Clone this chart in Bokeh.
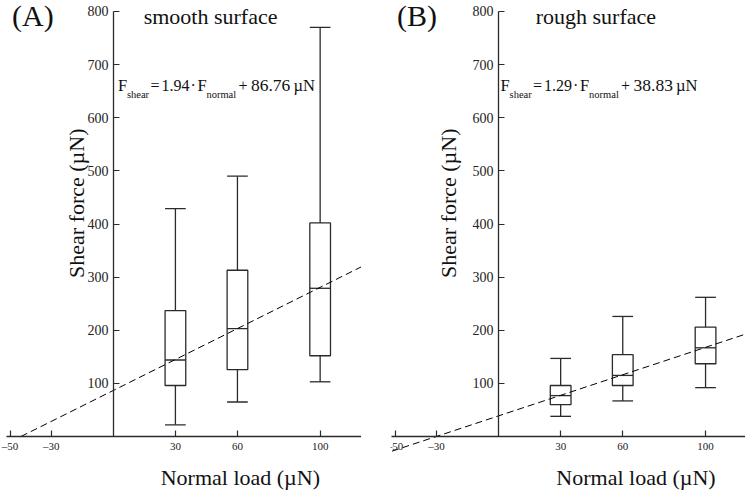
import math
from bokeh.plotting import figure
from bokeh.models import Range1d, FixedTicker, Label
from bokeh.layouts import row
from bokeh.embed import file_html
from bokeh.resources import INLINE

# ---------------- data ----------------
loads = [30, 60, 100]

smooth_min = [22, 65, 103]
smooth_q1 = [96, 126, 152]
smooth_med = [144, 203, 279]
smooth_q3 = [237, 313, 402]
smooth_max = [429, 490, 770]

rough_min = [38, 67, 92]
rough_q1 = [60, 96, 137]
rough_med = [77, 115, 167]
rough_q3 = [96, 154, 206]
rough_max = [147, 226, 262]

smooth_fit = (1.94, 86.76)
rough_fit = (1.29, 38.83)

x_ticks = [-50, -30, 30, 60, 100]
y_ticks = [100, 200, 300, 400, 500, 600, 700, 800]
x_tick_labels = {-50: "\u201350", -30: "\u201330"}

FONT = "Liberation Serif"
LINE = "#2b2b2b"
TXT = "#111111"
BOX_W = 10


def panel(x_start, x_end, width, border_left, letter, title, fit, mins, q1, med, q3, maxs,
          line_x0, eq_dx, ylab_x, xlab_x):
    p = figure(width=width, height=491, x_range=Range1d(x_start, x_end),
               y_range=Range1d(-103.5, 820.7), output_backend="svg", toolbar_location=None,
               min_border_left=border_left, min_border_right=0, min_border_top=0,
               min_border_bottom=0)
    p.outline_line_color = None
    p.grid.visible = False
    p.background_fill_color = "white"
    p.border_fill_color = "white"

    for ax in (p.xaxis[0], p.yaxis[0]):
        ax.fixed_location = 0
        ax.axis_line_color = LINE
        ax.axis_line_width = 1.3
        ax.major_tick_line_color = LINE
        ax.major_tick_line_width = 1.2
        ax.major_tick_in = 6
        ax.major_tick_out = 0
        ax.minor_tick_line_color = None
        ax.major_label_text_font = FONT
        ax.major_label_text_color = "#222222"
        ax.axis_label = None
    p.xaxis[0].ticker = FixedTicker(ticks=x_ticks)
    p.xaxis[0].major_label_overrides = x_tick_labels
    p.xaxis[0].major_label_text_font_size = "11px"
    p.xaxis[0].major_label_standoff = 3
    p.xaxis[0].bounds = (-51.5, 120)
    p.yaxis[0].ticker = FixedTicker(ticks=y_ticks)
    p.yaxis[0].major_label_text_font_size = "14px"
    p.yaxis[0].major_label_standoff = 5
    p.yaxis[0].bounds = (0, 800)

    lefts = [x - BOX_W / 2 for x in loads]
    rights = [x + BOX_W / 2 for x in loads]
    # boxes
    p.vbar(x=loads, width=BOX_W, bottom=q1, top=q3, fill_color=None,
           line_color=LINE, line_width=1.3)
    # medians
    p.segment(x0=lefts, x1=rights, y0=med, y1=med, line_color=LINE, line_width=1.3)
    # whiskers
    p.segment(x0=loads, x1=loads, y0=q3, y1=maxs, line_color=LINE, line_width=1.3)
    p.segment(x0=loads, x1=loads, y0=q1, y1=mins, line_color=LINE, line_width=1.3)
    # caps
    p.segment(x0=lefts, x1=rights, y0=maxs, y1=maxs, line_color=LINE, line_width=1.3)
    p.segment(x0=lefts, x1=rights, y0=mins, y1=mins, line_color=LINE, line_width=1.3)

    # regression line
    a, b = fit
    xs = [line_x0, x_end]
    p.line(x=xs, y=[a * x + b for x in xs], line_color="black", line_width=1,
           line_dash="7 4")

    # panel letter and title
    p.add_layout(Label(x=-49, y=793.4, text=letter, text_font=FONT, text_font_size="30px",
                       text_color=TXT, text_baseline="alphabetic"))
    p.add_layout(Label(x=47, y=790.5, text=title, text_font=FONT, text_font_size="22px",
                       text_color=TXT, text_align="center", text_baseline="alphabetic"))

    # equation  F_shear = a · F_normal + b µN
    main_y, sub_y = 660.3, 643.2
    pieces = [
        ("F", 0, main_y, "16.5px"),
        ("shear", 9, sub_y, "10.5px"),
        ("=", 32.5, main_y, "16px"),
        ("%.2f" % a, 43.5, main_y, "16px"),
        ("\u00b7", 72.5, main_y, "16px"),
        ("F", 79.5, main_y, "16.5px"),
        ("normal", 88.5, sub_y, "10.5px"),
        ("+", 120.5, main_y, "16px"),
        ("%.2f" % b, 133, main_y, "17.5px"),
        ("\u00b5N", 175.5, main_y, "16.5px"),
    ]
    for txt, dx, yy, fs in pieces:
        p.add_layout(Label(x=0, y=yy, x_offset=eq_dx + dx, text=txt, text_font=FONT,
                           text_font_size=fs, text_color=TXT, text_baseline="alphabetic"))

    # axis titles
    p.add_layout(Label(x=ylab_x, y=439, text="Shear force (\u00b5N)", angle=math.pi / 2,
                       text_font=FONT, text_font_size="22px", text_color=TXT,
                       text_align="center", text_baseline="alphabetic"))
    p.add_layout(Label(x=xlab_x, y=-77.2, text="Normal load (\u00b5N)", text_font=FONT,
                       text_font_size="22px", text_color=TXT, text_align="center",
                       text_baseline="alphabetic"))
    return p


sm_a, sm_b = smooth_fit
p1 = panel(-54.6, 120, 361, 0, "(A)", "smooth surface", smooth_fit,
           smooth_min, smooth_q1, smooth_med, smooth_q3, smooth_max,
           line_x0=-sm_b / sm_a, eq_dx=4.5, ylab_x=-17.9, xlab_x=61.4)
p2 = panel(-52.2, 119.3, 384, 29, "(B)", "rough surface", rough_fit,
           rough_min, rough_q1, rough_med, rough_q3, rough_max,
           line_x0=-51.5, eq_dx=2, ylab_x=-24.3, xlab_x=66.4)

layout = row(p1, p2)
open("out.html", "w").write(file_html(layout, INLINE))
